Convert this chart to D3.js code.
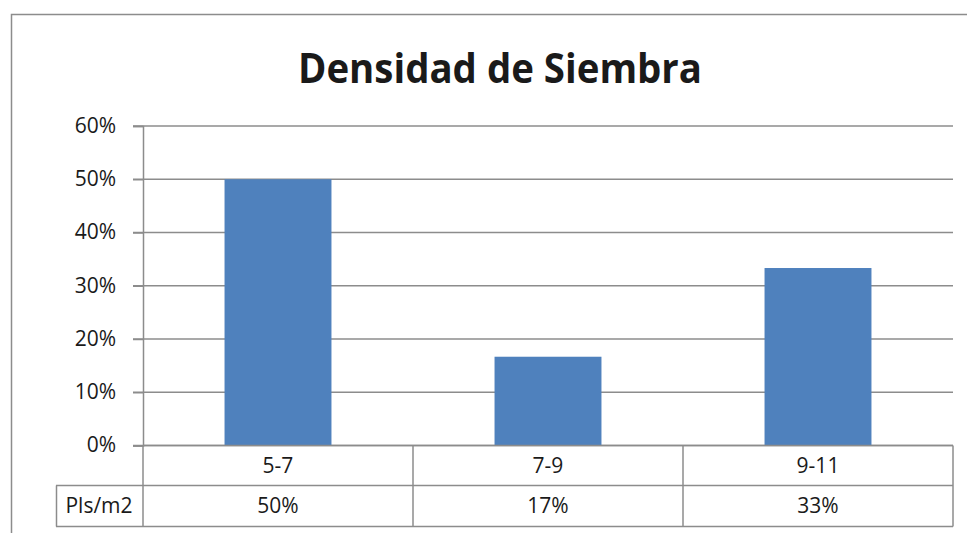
<!DOCTYPE html>
<html>
<head>
<meta charset="utf-8">
<script src="https://cdn.jsdelivr.net/npm/d3@7"></script>
<style>
  body { margin: 0; background: #fff; }
  text { font-family: "Open Sans", "Noto Sans", sans-serif; fill: #1a1a1a; }
</style>
</head>
<body>
<div id="chart"></div>
<script>
//Data
const title = 'Densidad de Siembra';
const categories = ['5-7', '7-9', '9-11'];
const values = [0.50, 0.1667, 0.3333];
const tableLabels = ['50%', '17%', '33%'];
const seriesName = 'Pls/m2';
const yTicks = [0, 0.1, 0.2, 0.3, 0.4, 0.5, 0.6];

//Configurables
const width = 967;
const height = 533;
const barColor = '#4f81bd';
const lineColor = '#8c8c8c';

const svg = d3.select('#chart').append('svg')
    .attr('width', width)
    .attr('height', height)

// outer chart border (runs off the right/bottom edge)
svg.append('rect')
    .attr('x', 11.5).attr('y', 14.5)
    .attr('width', 1000).attr('height', 600)
    .attr('fill', 'none')
    .attr('stroke', lineColor)
    .attr('stroke-width', 1.5)

const x = d3.scaleBand()
    .domain(categories)
    .range([143, 953])
    .paddingInner(0.604)
    .paddingOuter(0.302);

const cols = d3.scaleBand()
    .domain(categories)
    .range([143, 953]);

const y = d3.scaleLinear()
    .domain([0, 0.6])
    .range([445.5, 126]);

// gridlines
svg.append('g')
    .selectAll('line')
    .data(yTicks)
    .enter()
    .append('line')
    .attr('x1', 133).attr('x2', 953)
    .attr('y1', d => y(d)).attr('y2', d => y(d))
    .attr('stroke', lineColor)
    .attr('stroke-width', 1.5)

// y axis labels
const yAxis = svg.append('g')
    .attr('transform', 'translate(143,0)')
    .call(d3.axisLeft(y).tickValues(yTicks).tickFormat(d3.format('.0%')).tickSize(10));
yAxis.select('.domain').attr('stroke', lineColor).attr('stroke-width', 1.5);
yAxis.selectAll('.tick line').attr('stroke', lineColor).attr('stroke-width', 1.5);
yAxis.selectAll('.tick text')
    .attr('x', -27)
    .attr('dy', '0.3em')
    .style('font-size', '21px')
    .style('font-family', '"Open Sans", sans-serif')
    .attr('fill', '#1a1a1a');

// bars
svg.append('g')
    .selectAll('rect')
    .data(values)
    .enter()
    .append('rect')
    .attr('x', (d, i) => x(categories[i]))
    .attr('width', x.bandwidth())
    .attr('y', d => y(d))
    .attr('height', d => y(0) - y(d))
    .attr('fill', barColor)

// data table
const rowTop = y(0);
const rowMid = 485.5;
const rowBot = 526.5;
const table = svg.append('g');

table.append('line')
    .attr('x1', 143).attr('x2', 953)
    .attr('y1', rowTop).attr('y2', rowTop)
    .attr('stroke', lineColor).attr('stroke-width', 1.5)
table.selectAll('.hline')
    .data([rowMid, rowBot])
    .enter()
    .append('line')
    .attr('x1', 56).attr('x2', 953)
    .attr('y1', d => d).attr('y2', d => d)
    .attr('stroke', lineColor).attr('stroke-width', 1.5)
table.selectAll('.vline')
    .data(categories.map(c => cols(c)).concat([953]))
    .enter()
    .append('line')
    .attr('x1', d => d).attr('x2', d => d)
    .attr('y1', rowTop).attr('y2', rowBot)
    .attr('stroke', lineColor).attr('stroke-width', 1.5)
table.append('line')
    .attr('x1', 56.5).attr('x2', 56.5)
    .attr('y1', rowMid).attr('y2', rowBot)
    .attr('stroke', lineColor).attr('stroke-width', 1.5)

table.selectAll('.cat')
    .data(categories)
    .enter()
    .append('text')
    .attr('x', d => cols(d) + cols.bandwidth() / 2)
    .attr('y', (rowTop + rowMid) / 2)
    .attr('dy', '0.35em')
    .attr('text-anchor', 'middle')
    .style('font-size', '21px')
    .text(d => d)

table.selectAll('.val')
    .data(tableLabels)
    .enter()
    .append('text')
    .attr('x', (d, i) => cols(categories[i]) + cols.bandwidth() / 2)
    .attr('y', (rowMid + rowBot) / 2)
    .attr('dy', '0.35em')
    .attr('text-anchor', 'middle')
    .style('font-size', '21px')
    .text(d => d)

table.append('text')
    .attr('x', 99)
    .attr('y', (rowMid + rowBot) / 2)
    .attr('dy', '0.35em')
    .attr('text-anchor', 'middle')
    .style('font-size', '21px')
    .text(seriesName)

// title
svg.append('text')
    .attr('x', 500)
    .attr('y', 83)
    .attr('text-anchor', 'middle')
    .attr('textLength', 404)
    .attr('lengthAdjust', 'spacingAndGlyphs')
    .style('font-size', '42px')
    .style('font-weight', 'bold')
    .text(title)
</script>
</body>
</html>
